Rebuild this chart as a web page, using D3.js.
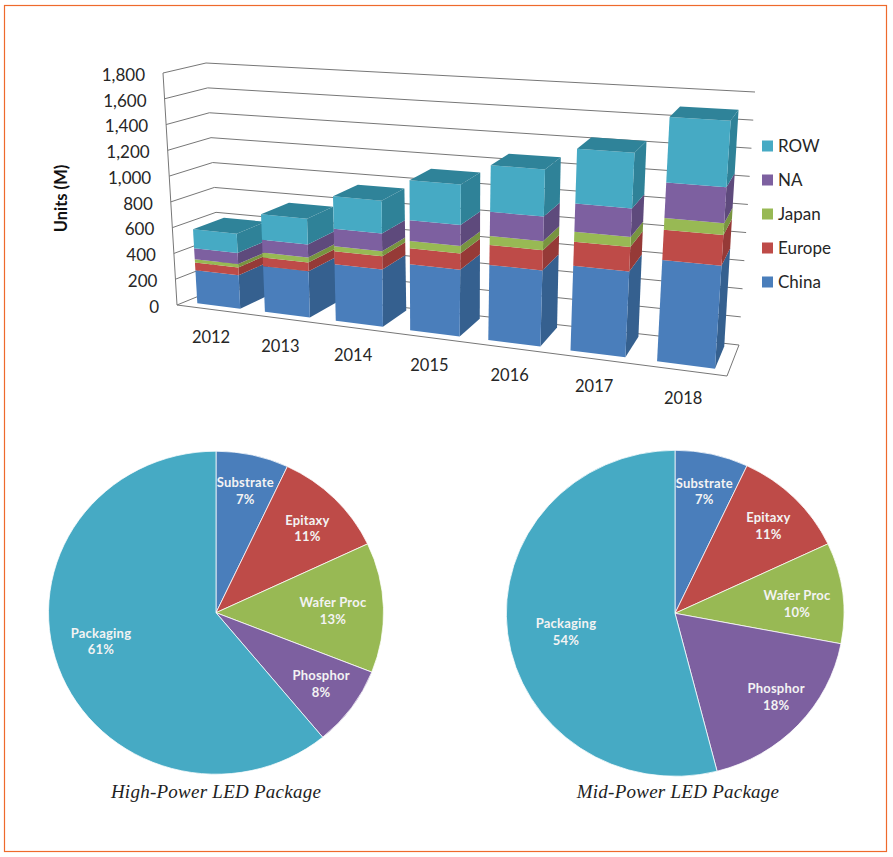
<!DOCTYPE html>
<html>
<head>
<meta charset="utf-8">
<script src="https://cdn.jsdelivr.net/npm/d3@7/dist/d3.min.js"></script>
<style>
html,body{margin:0;padding:0;background:#fff;}
svg{display:block;}
text{font-family:Lato,"Open Sans",sans-serif;}
</style>
</head>
<body>
<svg id="chart" width="893" height="857"></svg>
<script>
// ---- data -----
const years = ["2012","2013","2014","2015","2016","2017","2018"];
const regions = ["China","Europe","Japan","NA","ROW"];
const china  = [257,348,423,483,539,595,696];
const europe = [60,66,97,117,143,168,208];
const japan  = [26,38,37,54,64,70,80];
const na     = [86,99,132,151,174,198,244];
const row    = [148,193,242,293,334,385,450];
const yTicks = [0,200,400,600,800,1000,1200,1400,1600,1800];
const stages = ["Substrate","Epitaxy","Wafer Proc","Phosphor","Packaging"];
const highPower = [7,11,13,8,61];
const midPower  = [7,11,10,18,54];

// ---- style -----
const frontColor = {China:"#4a7ebb",Europe:"#be4b48",Japan:"#98b954",NA:"#7d60a0",ROW:"#46aac4"};
const sideColor  = {China:"#35608f",Europe:"#963a37",Japan:"#789440",NA:"#5e4a7c",ROW:"#2f8298"};
const topColor   = {China:"#35608f",Europe:"#963a37",Japan:"#789440",NA:"#5e4a7c",ROW:"#2f8399"};
const stageColor = ["#4a7ebb","#be4b48","#98b954","#7d60a0","#46aac4"];
const ink = "#262626";

const svg = d3.select("#chart");
svg.append("rect").attr("x",4.5).attr("y",5.5).attr("width",882).attr("height",846)
  .attr("fill","#fff").attr("stroke","#ee6a2c").attr("stroke-width",1.2);

// ---- 3D box: trilinear map of (u across, d depth, t height) -----
const box = {
  fb0:[177,305], fb1:[727,376], bb0:[221,287], bb1:[739,345],
  ft0:[163,73],  ft1:[745,106], bt0:[206,63],  bt1:[755,92]
};
const lerp = (a,b,t)=>[a[0]+(b[0]-a[0])*t, a[1]+(b[1]-a[1])*t];
function P(u,d,t){
  const f = lerp(lerp(box.fb0,box.fb1,u), lerp(box.ft0,box.ft1,u), t);
  const b = lerp(lerp(box.bb0,box.bb1,u), lerp(box.bt0,box.bt1,u), t);
  return lerp(f,b,d);
}
const c = 0.16;
const warp = s => (1-c)*s/(1-c*s);             // perspective along the category axis
const xBand = d3.scaleBand().domain(years).range([0.027,0.978]).paddingInner(0.36).paddingOuter(0);
const yVal  = d3.scaleLinear().domain([0,1800]).range([0,1]);
const d0 = 0.18, d1 = 0.9;
const line = d3.line();

// grid: side wall + back wall
const grid = svg.append("g").attr("fill","none").attr("stroke","#777").attr("stroke-width",1);
yTicks.forEach(v=>{
  const t = yVal(v);
  grid.append("path").attr("d",line([P(0,0,t),P(0,1,t),P(1,1,t)]));
});
grid.append("path").attr("d",line([P(0,0,yVal(1800)),P(0,0,0),P(1,0,0),P(1,1,0)]));

// y tick labels
svg.append("g").selectAll("text").data(yTicks).join("text")
  .attr("x",v=>P(0,0,yVal(v))[0]-18)
  .attr("y",v=>P(0,0,yVal(v))[1]+3.5)
  .attr("text-anchor","end").attr("dominant-baseline","middle")
  .attr("font-size",17).attr("fill",ink)
  .text(v=>d3.format(",")(v));

svg.append("text").attr("transform","translate(63,198.5) rotate(-90)")
  .attr("text-anchor","middle").attr("dominant-baseline","middle")
  .attr("font-size",16.5).attr("font-weight",700).attr("fill","#111").text("Units (M)");

// stacked 3D bars
const rows = years.map((y,i)=>({year:y,China:china[i],Europe:europe[i],Japan:japan[i],NA:na[i],ROW:row[i]}));
const stacked = d3.stack().keys(regions)(rows);
const poly = pts => line(pts)+"Z";
const bars = svg.append("g");
years.forEach((y,i)=>{
  const u0 = warp(xBand(y)), u1 = warp(xBand(y)+xBand.bandwidth());
  const g = bars.append("g");
  stacked.forEach(layer=>{
    const a = yVal(layer[i][0]), b = yVal(layer[i][1]);
    g.append("path").attr("fill",sideColor[layer.key])
      .attr("d",poly([P(u1,d0,a),P(u1,d1,a),P(u1,d1,b),P(u1,d0,b)]));
    g.append("path").attr("fill",frontColor[layer.key])
      .attr("d",poly([P(u0,d0,a),P(u1,d0,a),P(u1,d0,b),P(u0,d0,b)]));
  });
  const top = stacked[stacked.length-1];
  const tt = yVal(top[i][1]);
  g.append("path").attr("fill",topColor[top.key])
    .attr("d",poly([P(u0,d0,tt),P(u1,d0,tt),P(u1,d1,tt),P(u0,d1,tt)]));
});

// year labels
svg.append("g").selectAll("text").data(years).join("text")
  .attr("x",y=>P(warp(xBand(y)+xBand.bandwidth()/2),0,0)[0])
  .attr("y",y=>P(warp(xBand(y)+xBand.bandwidth()/2),0,0)[1]+29)
  .attr("text-anchor","middle").attr("dominant-baseline","middle")
  .attr("font-size",16.5).attr("fill",ink).text(y=>y);

// legend
const legendY = d3.scalePoint().domain(regions).range([282,146]);
const legend = svg.append("g").selectAll("g").data(regions).join("g")
  .attr("transform",r=>`translate(762,${legendY(r)})`);
legend.append("rect").attr("x",0).attr("y",-5.5).attr("width",11).attr("height",11)
  .attr("fill",r=>frontColor[r]);
legend.append("text").attr("x",16).attr("y",2).attr("dominant-baseline","middle")
  .attr("font-size",17).attr("fill",ink).text(r=>r);

// pies
const highShift = [[2,0],[3,4],[-8,2],[4,-2.5],[2.6,-14]];
const midShift  = [[2,0],[5,1],[-2,6],[10,-2],[15,3]];
function drawPie(values,shift,cx,cy,rx,ry,title,titleX,titleSpacing){
  const arcs = d3.pie().sort(null)(values);
  const arc = d3.arc().innerRadius(0).outerRadius(1);
  const labelArc = d3.arc().innerRadius(125).outerRadius(125);
  const g = svg.append("g");
  g.append("g").attr("transform",`translate(${cx},${cy}) scale(${rx},${ry})`)
    .selectAll("path").data(arcs).join("path")
    .attr("d",arc).attr("fill",(d,i)=>stageColor[i])
    .attr("stroke","#fff").attr("stroke-opacity",0.75).attr("stroke-width",1)
    .attr("vector-effect","non-scaling-stroke");
  const lab = g.append("g").attr("transform",`translate(${cx},${cy})`)
    .selectAll("text").data(arcs).join("text")
    .attr("text-anchor","middle").attr("font-size",13).attr("font-weight",700)
    .attr("fill","#f3f3f3").attr("letter-spacing",0.2);
  lab.each(function(d,i){
    const [x,y] = labelArc.centroid(d);
    const px = x+shift[i][0], py = y+shift[i][1];
    const t = d3.select(this);
    t.append("tspan").attr("x",px).attr("y",py-3.5).text(stages[i]);
    t.append("tspan").attr("x",px).attr("y",py+13).text(values[i]+"%");
  });
  svg.append("text").attr("x",titleX).attr("y",798).attr("text-anchor","middle")
    .style("font-family",'"Liberation Serif",serif').style("font-style","italic")
    .attr("font-size",19).attr("letter-spacing",titleSpacing).attr("fill","#222").text(title);
}
drawPie(highPower,highShift,216,612.7,167.5,161.5,"High-Power LED Package",216,0.25);
drawPie(midPower,midShift,675,613.3,169,163,"Mid-Power LED Package",678,0.25);
</script>
</body>
</html>
